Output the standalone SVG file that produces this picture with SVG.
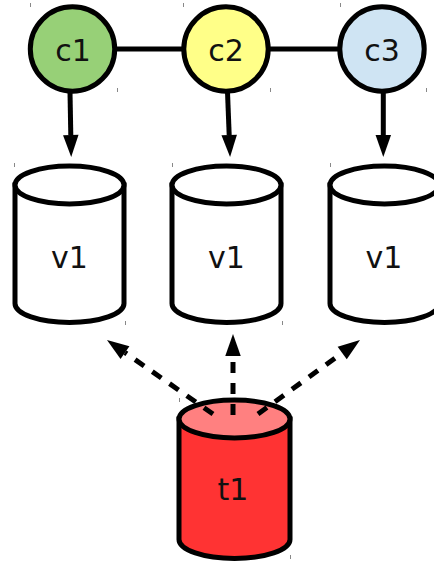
<svg xmlns="http://www.w3.org/2000/svg" width="434" height="563" viewBox="0 0 434 563">
<style>
.node{stroke:#000;stroke-width:5}
.lbl{font-family:"DejaVu Sans",sans-serif;font-size:30px;fill:#111;text-anchor:middle}
.edge{stroke:#000;stroke-width:5;fill:none}
.dash{stroke-dasharray:11 10}
.tick{stroke:#888;stroke-width:1}
</style>
<defs>
<marker id="ah" markerUnits="userSpaceOnUse" markerWidth="24" markerHeight="16" refX="0" refY="7.75" orient="auto" overflow="visible">
<path d="M0,0 L22,7.75 L0,15.5 Z" fill="#000"/>
</marker>
</defs>
<g id="ticks">
<path class="tick" d="M30.5,3v4M117.5,88v4M183.5,3v4M270.5,88v4M340.5,3v4M426.5,88v4M14.5,163v4M125.5,321v4M172.5,163v4M282.5,321v4M330.5,163v4M179.5,398v4M290.5,555v4"/>
</g>
<g id="connectors">
<line class="edge" x1="114" y1="49" x2="184" y2="49"/>
<line class="edge" x1="268" y1="49" x2="340" y2="49"/>
<line class="edge" x1="70" y1="92" x2="70.8" y2="135" marker-end="url(#ah)"/>
<line class="edge" x1="227.5" y1="92" x2="229.2" y2="135" marker-end="url(#ah)"/>
<line class="edge" x1="383.3" y1="92" x2="383.3" y2="135" marker-end="url(#ah)"/>
</g>
<g id="c1"><circle class="node" cx="72.5" cy="49" r="42.2" fill="#97d077"/><text class="lbl" x="73" y="61">c1</text></g>
<g id="c2"><circle class="node" cx="226" cy="49" r="42.2" fill="#ffff88"/><text class="lbl" x="226" y="61">c2</text></g>
<g id="c3"><circle class="node" cx="382" cy="49" r="42.2" fill="#cfe4f3"/><text class="lbl" x="382" y="61">c3</text></g>
<g id="v1a">
<path class="node" fill="#fff" d="M15,185 L15,303.5 A54.5,19 0 0 0 124,303.5 L124,185 Z"/>
<ellipse class="node" fill="#fff" cx="69.5" cy="185" rx="54.5" ry="19"/>
<text class="lbl" x="69.5" y="268">v1</text>
</g>
<g id="v1b">
<path class="node" fill="#fff" d="M172,185 L172,303.5 A54.5,19 0 0 0 281,303.5 L281,185 Z"/>
<ellipse class="node" fill="#fff" cx="226.5" cy="185" rx="54.5" ry="19"/>
<text class="lbl" x="226.5" y="268">v1</text>
</g>
<g id="v1c">
<path class="node" fill="#fff" d="M330,185 L330,303.5 A54.5,19 0 0 0 439,303.5 L439,185 Z"/>
<ellipse class="node" fill="#fff" cx="384.5" cy="185" rx="54.5" ry="19"/>
<text class="lbl" x="384" y="268">v1</text>
</g>
<g id="t1">
<path class="node" fill="#ff3333" d="M179,419 L179,539.5 A55.5,19 0 0 0 290,539.5 L290,419 Z"/>
<ellipse class="node" fill="#ff8080" cx="234.5" cy="419" rx="55.5" ry="19"/>
<text class="lbl" x="233" y="500">t1</text>
</g>
<g id="dashed-connectors">
<line class="edge dash" x1="213" y1="414" x2="125" y2="352.6" marker-end="url(#ah)"/>
<line class="edge dash" x1="233" y1="415" x2="233" y2="356" marker-end="url(#ah)"/>
<line class="edge dash" x1="258" y1="414" x2="342.2" y2="352.9" marker-end="url(#ah)"/>
</g>
</svg>
